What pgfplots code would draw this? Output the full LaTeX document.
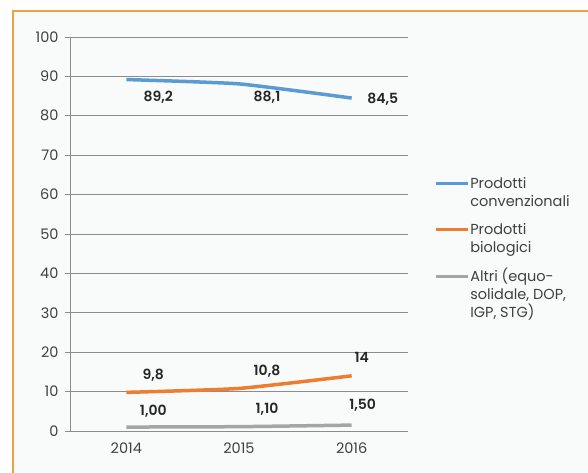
\documentclass[border=0pt]{standalone}
\usepackage{pgfplots}
\pgfplotsset{compat=1.18}
\usepackage{fontspec}
\setmainfont{Poppins}[BoldFont={Poppins SemiBold}]
\definecolor{cblue}{HTML}{5B9BD5}
\definecolor{corange}{HTML}{ED7D31}
\definecolor{cgray}{HTML}{A5A5A5}
\definecolor{frame}{HTML}{E6A446}
\definecolor{bgc}{HTML}{F9FBFB}
\definecolor{gridc}{HTML}{8C8C8C}
\definecolor{txt}{HTML}{404040}
\begin{document}
\begin{tikzpicture}[x=1pt,y=1pt]
\useasboundingbox (0,0) rectangle (588,473);
\fill[white] (0,0) rectangle (588,473);
\filldraw[fill=bgc, draw=frame, line width=2.5pt] (13,-20) rectangle (620,462);
\begin{axis}[
  at={(70pt,42pt)}, anchor=south west,
  scale only axis, width=338pt, height=394pt,
  xmin=-0.5, xmax=2.5, ymin=0, ymax=100,
  xtick={0,1,2}, xticklabels={2014,2015,2016},
  extra x ticks={-0.5,0.5,1.5,2.5}, extra x tick labels={},
  extra x tick style={major tick length=5pt, tick style={gridc, line width=0.8pt}},
  ytick={0,10,...,100},
  axis x line*=bottom, axis y line*=left,
  x axis line style={-, gridc, line width=0.8pt},
  y axis line style={-, gridc, line width=0.8pt},
  ymajorgrids, major grid style={gridc, line width=0.8pt},
  tick align=outside, major tick length=5pt,
  xtick style={draw=none},
  ytick style={gridc, line width=0.8pt},
  tick label style={font=\fontsize{14.5}{16}\selectfont, text=txt},
  /pgf/number format/assume math mode=true,
  yticklabel style={xshift=-3pt},
  xticklabel style={yshift=-3pt},
  legend style={at={(1.083,0.654)}, anchor=north west, draw=none, fill=none,
    font=\fontsize{14.5}{18}\selectfont, text=txt,
    cells={align=left}, row sep=10pt, inner sep=0pt},
  legend cell align=left,
  clip=false,
]
\addplot[cblue, line width=3.5pt, smooth, tension=0.3,
  legend image code/.code={\path[draw=none] (0pt,0pt) -- (32pt,0pt); \draw[overlay, cblue, line width=3.5pt] (0pt,8pt) -- (32pt,8pt);}]
  coordinates {(0,89.2) (1,88.1) (2,84.5)};
\addlegendentry{\strut Prodotti\\convenzionali\strut}
\addplot[corange, line width=3.5pt, smooth, tension=0.3,
  legend image code/.code={\path[draw=none] (0pt,0pt) -- (32pt,0pt); \draw[overlay, corange, line width=3.5pt] (0pt,8pt) -- (32pt,8pt);}]
  coordinates {(0,9.8) (1,10.8) (2,14)};
\addlegendentry{\strut Prodotti\\biologici\strut}
\addplot[cgray, line width=3.5pt, smooth, tension=0.3,
  legend image code/.code={\path[draw=none] (0pt,0pt) -- (32pt,0pt); \draw[overlay, cgray, line width=3.5pt] (0pt,16.5pt) -- (32pt,16.5pt);}]
  coordinates {(0,1.00) (1,1.10) (2,1.50)};
\addlegendentry{\strut Altri (equo-\\solidale, DOP,\\IGP, STG)\strut}
\begin{scope}[every node/.style={font=\bfseries\fontsize{14}{16}\selectfont, text=black!85}]
\node at (axis cs:0,89.2) [xshift=32pt, yshift=-18pt] {89,2};
\node at (axis cs:1,88.1) [xshift=28pt, yshift=-13pt] {88,1};
\node at (axis cs:2,84.5) [xshift=31pt, yshift=-1pt] {84,5};
\node at (axis cs:0,9.8) [xshift=27pt, yshift=17pt] {9,8};
\node at (axis cs:1,10.8) [xshift=28pt, yshift=17pt] {10,8};
\node at (axis cs:2,14) [xshift=10pt, yshift=18pt] {14};
\node at (axis cs:0,1.00) [xshift=27pt, yshift=16pt] {1,00};
\node at (axis cs:1,1.10) [xshift=28pt, yshift=17pt] {1,10};
\node at (axis cs:2,1.50) [xshift=11pt, yshift=20pt] {1,50};
\end{scope}
\end{axis}
\end{tikzpicture}
\end{document}
